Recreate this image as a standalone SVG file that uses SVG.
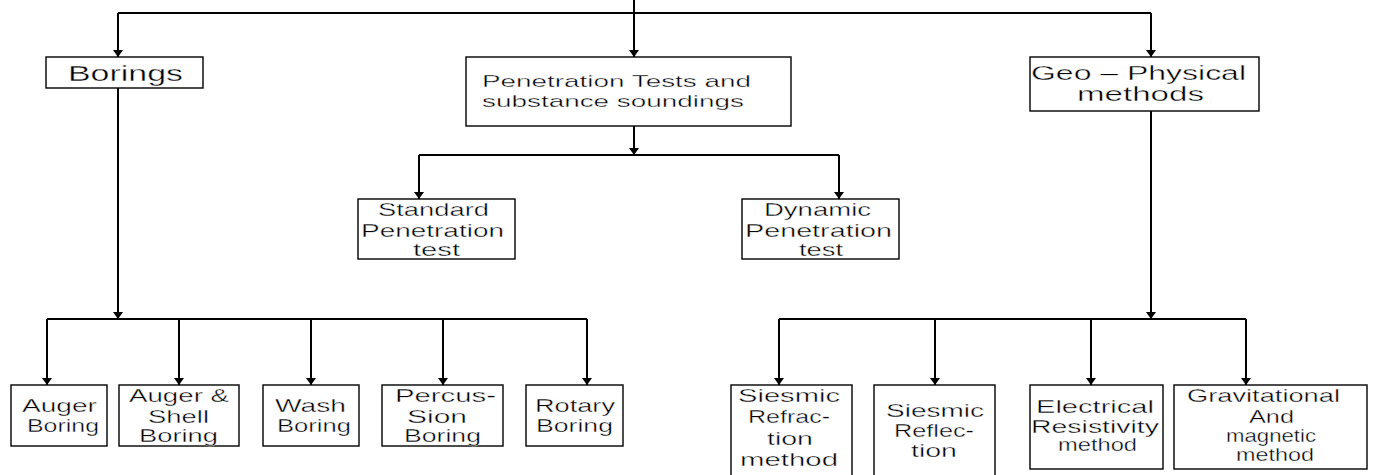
<svg xmlns="http://www.w3.org/2000/svg" width="1374" height="475" viewBox="0 0 1374 475">
<style>
.box{fill:#fff;stroke:#000;stroke-width:1.4}
.c{fill:none;stroke:#000;stroke-width:2}
.a{marker-end:url(#ah)}
text{font-family:"Liberation Sans",Arial,sans-serif;font-size:18px;fill:#000;stroke:#fff;stroke-width:0.35}
.t22{font-size:22px}.t17{font-size:17px}.t20{font-size:20px}
</style>
<defs>
<marker id="ah" markerUnits="userSpaceOnUse" markerWidth="12" markerHeight="12" refX="7" refY="5" orient="auto" viewBox="0 0 12 12">
<path d="M0,0 L7,5 L0,10 z" fill="#000"/>
</marker>
</defs>
<rect width="1374" height="475" fill="#fff"/>
<g id="connectors">
<path class="c a" d="M634,0 V57"/>
<path class="c" d="M118,13 H1151"/>
<path class="c a" d="M118,13 V57"/>
<path class="c a" d="M1151,13 V57"/>
<path class="c a" d="M118,88 V319"/>
<path class="c a" d="M634,126 V155"/>
<path class="c" d="M419,155 H839"/>
<path class="c a" d="M419,155 V199"/>
<path class="c a" d="M839,155 V199"/>
<path class="c a" d="M1151,111 V319"/>
<path class="c" d="M47,319 H587"/>
<path class="c a" d="M47,319 V385"/>
<path class="c a" d="M179,319 V385"/>
<path class="c a" d="M311,319 V385"/>
<path class="c a" d="M443,319 V385"/>
<path class="c a" d="M587,319 V385"/>
<path class="c" d="M779,319 H1246"/>
<path class="c a" d="M779,319 V385"/>
<path class="c a" d="M935,319 V385"/>
<path class="c a" d="M1091,319 V385"/>
<path class="c a" d="M1246,319 V385"/>
</g>
<g id="borings"><rect class="box" x="46" y="57" width="157" height="31"/>
<text class="t22" x="68" y="81" textLength="115" lengthAdjust="spacingAndGlyphs">Borings</text></g>
<g id="penetration"><rect class="box" x="466" y="57" width="325" height="69"/>
<text class="t17" x="482" y="87" textLength="269" lengthAdjust="spacingAndGlyphs">Penetration Tests and</text>
<text class="t17" x="482" y="107" textLength="262" lengthAdjust="spacingAndGlyphs">substance soundings</text></g>
<g id="geo"><rect class="box" x="1030" y="57" width="229" height="54"/>
<text class="t20" x="1031" y="80" textLength="215" lengthAdjust="spacingAndGlyphs">Geo – Physical</text>
<text class="t20" x="1077" y="101" textLength="127" lengthAdjust="spacingAndGlyphs">methods</text></g>
<g id="standard"><rect class="box" x="358" y="199" width="157" height="60"/>
<text x="378" y="216" textLength="111" lengthAdjust="spacingAndGlyphs">Standard</text>
<text x="361" y="237" textLength="143" lengthAdjust="spacingAndGlyphs">Penetration</text>
<text x="413" y="255.5" textLength="47" lengthAdjust="spacingAndGlyphs">test</text></g>
<g id="dynamic"><rect class="box" x="742" y="199" width="157" height="60"/>
<text x="764" y="216" textLength="107" lengthAdjust="spacingAndGlyphs">Dynamic</text>
<text x="745" y="237" textLength="147" lengthAdjust="spacingAndGlyphs">Penetration</text>
<text x="799" y="255.5" textLength="44" lengthAdjust="spacingAndGlyphs">test</text></g>
<g id="auger"><rect class="box" x="11" y="385" width="96" height="61"/>
<text x="22" y="412" textLength="75" lengthAdjust="spacingAndGlyphs">Auger</text>
<text x="27" y="432" textLength="72" lengthAdjust="spacingAndGlyphs">Boring</text></g>
<g id="augershell"><rect class="box" x="119" y="385" width="120" height="61"/>
<text x="129" y="402" textLength="100" lengthAdjust="spacingAndGlyphs">Auger &amp;</text>
<text x="148" y="423" textLength="61" lengthAdjust="spacingAndGlyphs">Shell</text>
<text x="139" y="442" textLength="79" lengthAdjust="spacingAndGlyphs">Boring</text></g>
<g id="wash"><rect class="box" x="263" y="385" width="96" height="61"/>
<text x="275" y="412" textLength="71" lengthAdjust="spacingAndGlyphs">Wash</text>
<text x="277" y="432" textLength="74" lengthAdjust="spacingAndGlyphs">Boring</text></g>
<g id="percussion"><rect class="box" x="382" y="385" width="121" height="61"/>
<text x="395" y="402" textLength="101" lengthAdjust="spacingAndGlyphs">Percus-</text>
<text x="407" y="423" textLength="60" lengthAdjust="spacingAndGlyphs">Sion</text>
<text x="404" y="442" textLength="77" lengthAdjust="spacingAndGlyphs">Boring</text></g>
<g id="rotary"><rect class="box" x="526" y="385" width="97" height="61"/>
<text x="535" y="412" textLength="80" lengthAdjust="spacingAndGlyphs">Rotary</text>
<text x="536" y="432" textLength="77" lengthAdjust="spacingAndGlyphs">Boring</text></g>
<g id="refraction"><rect class="box" x="731" y="385" width="121" height="95"/>
<text x="738" y="402" textLength="102" lengthAdjust="spacingAndGlyphs">Siesmic</text>
<text x="748" y="423" textLength="82" lengthAdjust="spacingAndGlyphs">Refrac-</text>
<text x="767" y="445" textLength="46" lengthAdjust="spacingAndGlyphs">tion</text>
<text x="740" y="466" textLength="98" lengthAdjust="spacingAndGlyphs">method</text></g>
<g id="reflection"><rect class="box" x="874" y="385" width="121" height="95"/>
<text x="886" y="417" textLength="98" lengthAdjust="spacingAndGlyphs">Siesmic</text>
<text x="894" y="437" textLength="80" lengthAdjust="spacingAndGlyphs">Reflec-</text>
<text x="911" y="457" textLength="46" lengthAdjust="spacingAndGlyphs">tion</text></g>
<g id="electrical"><rect class="box" x="1030" y="385" width="133" height="84"/>
<text x="1036" y="413" textLength="118" lengthAdjust="spacingAndGlyphs">Electrical</text>
<text x="1031" y="433" textLength="128" lengthAdjust="spacingAndGlyphs">Resistivity</text>
<text x="1058" y="451" textLength="79" lengthAdjust="spacingAndGlyphs">method</text></g>
<g id="gravitational"><rect class="box" x="1174" y="385" width="193" height="84"/>
<text x="1187" y="402" textLength="153" lengthAdjust="spacingAndGlyphs">Gravitational</text>
<text x="1249" y="423" textLength="45" lengthAdjust="spacingAndGlyphs">And</text>
<text x="1226" y="442" textLength="90" lengthAdjust="spacingAndGlyphs">magnetic</text>
<text x="1236" y="461" textLength="78" lengthAdjust="spacingAndGlyphs">method</text></g>
</svg>
